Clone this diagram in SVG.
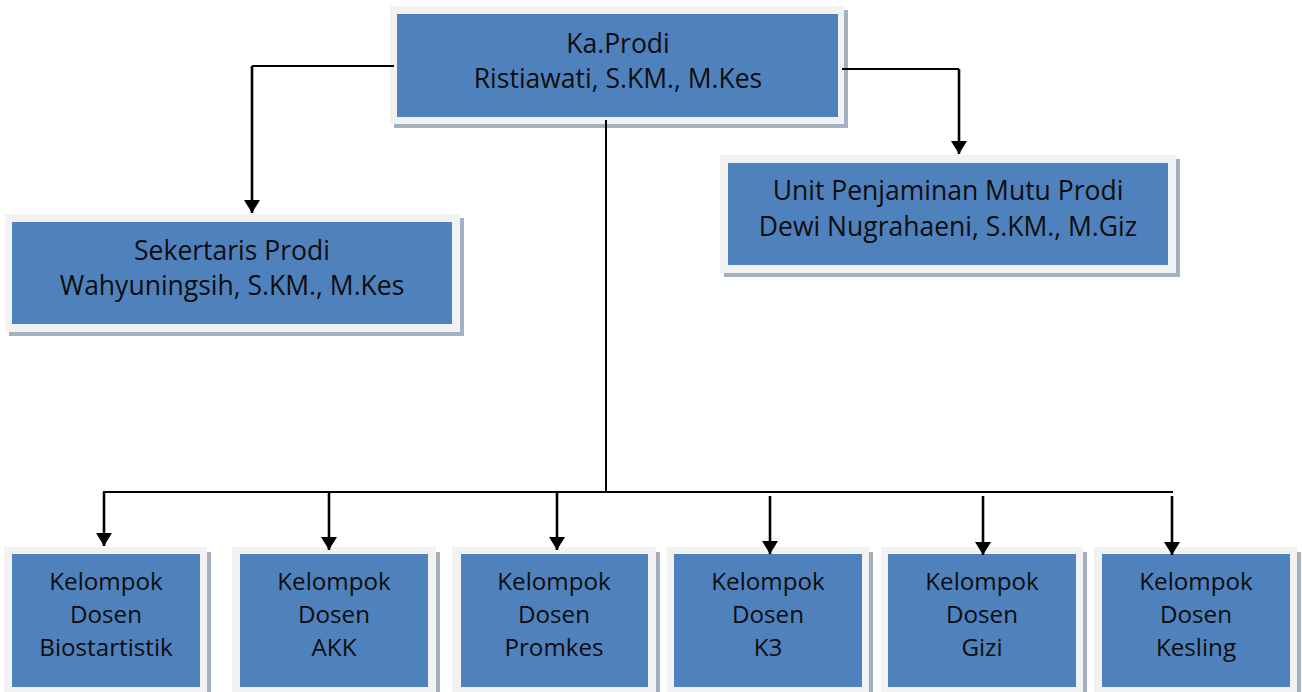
<svg xmlns="http://www.w3.org/2000/svg" width="1302" height="692" viewBox="0 0 1302 692">
  <defs>
    <style>
      .shadow { fill: #a4afbf; }
      .frame { fill: #f2f2f2; }
      .box { fill: #4f81bd; }
      .label { font-family: "Open Sans", "Noto Sans", "Liberation Sans", sans-serif; font-size: 26.5px; fill: #0d0d0d; text-anchor: middle; }
      .small { font-size: 24.2px; }
      .wire { fill: none; stroke: #000; stroke-width: 1.8; }
      .drop { fill: none; stroke: #000; stroke-width: 2.6; marker-end: url(#arrow); }
    </style>
    <marker id="arrow" markerUnits="userSpaceOnUse" markerWidth="14" markerHeight="18" viewBox="0 0 14 18" refX="13" refY="9" orient="auto">
      <path d="M0,1 L13,9 L0,17 Z" fill="#000"/>
    </marker>
  </defs>

  <!-- head of study programme -->
  <g id="kaprodi">
    <rect class="shadow" x="394" y="10" width="454" height="118"/>
    <rect class="frame" x="390" y="6" width="454" height="118"/>
    <rect class="box" x="397" y="14" width="441" height="103"/>
    <text class="label" x="618" y="53">Ka.Prodi</text>
    <text class="label" x="618" y="88">Ristiawati, S.KM., M.Kes</text>
  </g>

  <g id="sekretaris">
    <rect class="shadow" x="9" y="218" width="455" height="118"/>
    <rect class="frame" x="5" y="214" width="455" height="118"/>
    <rect class="box" x="12" y="222" width="440" height="102"/>
    <text class="label" x="232" y="260">Sekertaris Prodi</text>
    <text class="label" x="232" y="295">Wahyuningsih, S.KM., M.Kes</text>
  </g>

  <g id="upm">
    <rect class="shadow" x="724" y="159" width="456" height="118"/>
    <rect class="frame" x="720" y="155" width="456" height="118"/>
    <rect class="box" x="728" y="163" width="440" height="102"/>
    <text class="label" x="948" y="200">Unit Penjaminan Mutu Prodi</text>
    <text class="label" x="948" y="236">Dewi Nugrahaeni, S.KM., M.Giz</text>
  </g>

  <!-- lecturer groups -->
  <g id="biostatistik">
    <rect class="shadow" x="8" y="552" width="203" height="150"/>
    <rect class="frame" x="4" y="547" width="203" height="150"/>
    <rect class="box" x="12" y="554" width="188" height="133"/>
    <text class="label small" x="106" y="590">Kelompok</text>
    <text class="label small" x="106" y="623">Dosen</text>
    <text class="label small" x="106" y="656">Biostartistik</text>
  </g>

  <g id="akk">
    <rect class="shadow" x="236" y="552" width="204" height="150"/>
    <rect class="frame" x="232" y="547" width="204" height="150"/>
    <rect class="box" x="240" y="554" width="188" height="133"/>
    <text class="label small" x="334" y="590">Kelompok</text>
    <text class="label small" x="334" y="623">Dosen</text>
    <text class="label small" x="334" y="656">AKK</text>
  </g>

  <g id="promkes">
    <rect class="shadow" x="456" y="552" width="204" height="150"/>
    <rect class="frame" x="452" y="547" width="204" height="150"/>
    <rect class="box" x="461" y="554" width="187" height="133"/>
    <text class="label small" x="554" y="590">Kelompok</text>
    <text class="label small" x="554" y="623">Dosen</text>
    <text class="label small" x="554" y="656">Promkes</text>
  </g>

  <g id="k3">
    <rect class="shadow" x="671" y="552" width="202" height="150"/>
    <rect class="frame" x="667" y="547" width="202" height="150"/>
    <rect class="box" x="674" y="554" width="188" height="133"/>
    <text class="label small" x="768" y="590">Kelompok</text>
    <text class="label small" x="768" y="623">Dosen</text>
    <text class="label small" x="768" y="656">K3</text>
  </g>

  <g id="gizi">
    <rect class="shadow" x="885" y="552" width="202" height="150"/>
    <rect class="frame" x="881" y="547" width="202" height="150"/>
    <rect class="box" x="888" y="554" width="188" height="133"/>
    <text class="label small" x="982" y="590">Kelompok</text>
    <text class="label small" x="982" y="623">Dosen</text>
    <text class="label small" x="982" y="656">Gizi</text>
  </g>

  <g id="kesling">
    <rect class="shadow" x="1098" y="552" width="203" height="150"/>
    <rect class="frame" x="1094" y="547" width="203" height="150"/>
    <rect class="box" x="1102" y="554" width="188" height="133"/>
    <text class="label small" x="1196" y="590">Kelompok</text>
    <text class="label small" x="1196" y="623">Dosen</text>
    <text class="label small" x="1196" y="656">Kesling</text>
  </g>

  <!-- connectors -->
  <g id="connectors">
    <polyline class="wire" points="394,66 252,66"/>
    <line class="drop" x1="252" y1="66" x2="252" y2="213"/>
    <polyline class="wire" points="842,69 959,69"/>
    <line class="drop" x1="959" y1="69" x2="959" y2="154"/>
    <line class="wire" x1="606" y1="120" x2="606" y2="492" style="stroke-width:2"/>
    <line class="wire" x1="103" y1="492" x2="1173" y2="492"/>
    <line class="drop" x1="104" y1="492" x2="104" y2="546"/>
    <line class="drop" x1="329" y1="492" x2="329" y2="550"/>
    <line class="drop" x1="557" y1="492" x2="557" y2="550"/>
    <line class="drop" x1="770" y1="496" x2="770" y2="554"/>
    <line class="drop" x1="983" y1="496" x2="983" y2="555"/>
    <line class="drop" x1="1172" y1="496" x2="1172" y2="555"/>
  </g>
</svg>
